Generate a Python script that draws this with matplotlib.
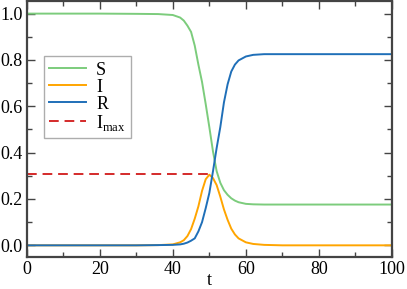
import matplotlib
matplotlib.use("Agg")
import matplotlib.pyplot as plt
from matplotlib.ticker import MultipleLocator

plt.rcParams['font.family'] = ['Liberation Serif', 'DejaVu Serif']
plt.rcParams['mathtext.fontset'] = 'custom'
plt.rcParams['mathtext.rm'] = 'Liberation Serif'

# valores
t = [0, 10, 20, 30, 36, 40, 42, 43, 44, 45, 46, 47, 48, 49, 50, 51, 52, 53,
     54, 55, 56, 57, 58, 60, 62, 65, 70, 80, 90, 100]
S = [1.0, 1.0, 1.0, 0.999, 0.998, 0.994, 0.983, 0.970, 0.948, 0.921, 0.862,
     0.780, 0.705, 0.610, 0.510, 0.405, 0.320, 0.270, 0.238, 0.218, 0.203,
     0.193, 0.186, 0.179, 0.177, 0.176, 0.176, 0.176, 0.176, 0.176]
I = [0.0, 0.0, 0.0, 0.0, 0.001, 0.004, 0.013, 0.022, 0.040, 0.070, 0.115,
     0.168, 0.235, 0.285, 0.305, 0.290, 0.260, 0.210, 0.155, 0.110, 0.072,
     0.047, 0.030, 0.013, 0.006, 0.002, 0.0, 0.0, 0.0, 0.0]
R = [0.0, 0.0, 0.0, 0.0, 0.001, 0.002, 0.004, 0.007, 0.012, 0.020, 0.030,
     0.060, 0.100, 0.160, 0.226, 0.320, 0.420, 0.510, 0.617, 0.695, 0.750,
     0.780, 0.798, 0.815, 0.822, 0.825, 0.825, 0.825, 0.825, 0.825]
I_max = 0.306
t_pico = 50.9

fig = plt.figure(figsize=(4.07, 2.89), dpi=100)
ax = fig.add_axes([0.0656, 0.111, 0.8975, 0.886])

ax.plot(t, S, color='#7ccc7c', lw=1.4, label='S')
ax.plot(t, I, color='#ffa500', lw=1.4, label='I')
ax.plot(t, R, color='#1f6fb8', lw=1.4, label='R')
ax.plot([0, t_pico], [I_max, I_max], color='#d42a2a', lw=1.4, ls=(0, (5, 3)),
        label=r'I$_{\mathrm{max}}$')

ax.set_xlim(0, 100)
ax.set_ylim(-0.05, 1.055)
ax.xaxis.set_major_locator(MultipleLocator(20))
ax.xaxis.set_minor_locator(MultipleLocator(10))
ax.yaxis.set_major_locator(MultipleLocator(0.2))
ax.yaxis.set_minor_locator(MultipleLocator(0.1))
ax.yaxis.set_major_formatter(plt.FuncFormatter(lambda v, p: f"{v:.1f}"))
ax.tick_params(which='both', direction='in', top=True, right=True,
               color='#444444', labelsize=13, pad=3)
ax.tick_params(which='major', length=6, width=1)
ax.tick_params(which='minor', length=3.5, width=1)
for s in ax.spines.values():
    s.set_color('#444444')
    s.set_linewidth(1.6)

ax.set_xlabel('t', fontsize=13, labelpad=-4.5)

leg = ax.legend(loc='upper left', bbox_to_anchor=(0.047, 0.784), borderaxespad=0,
                fancybox=False, fontsize=13, handlelength=2.05, handletextpad=0.55,
                labelspacing=0.0, borderpad=0.3)
leg.get_frame().set_edgecolor('#999999')
leg.get_frame().set_linewidth(1.0)

fig.savefig('out.png', dpi=100)
